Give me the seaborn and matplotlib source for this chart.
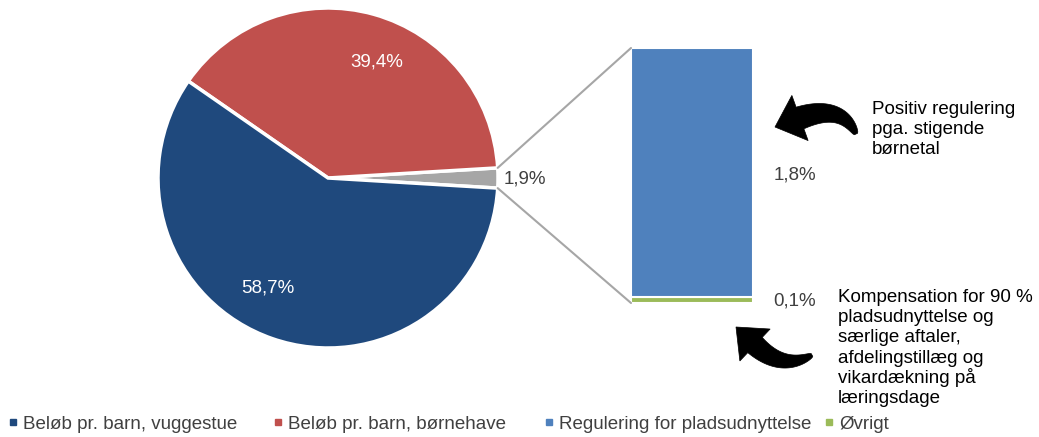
import matplotlib
matplotlib.use("Agg")
import matplotlib.pyplot as plt
import seaborn as sns
import numpy as np
from matplotlib.patches import ConnectionPatch, Polygon
from matplotlib.lines import Line2D

# ---------------- data ----------------
pie_labels = ["Øvrigt (samlet)", "Beløb pr. barn, børnehave", "Beløb pr. barn, vuggestue"]
pie_values = [1.9, 39.4, 58.7]
pie_texts = ["1,9%", "39,4%", "58,7%"]

bar_categories = ["Øvrigt", "Regulering for pladsudnyttelse"]
bar_values = [0.045, 1.855]          # heights (bottom, top)
bar_texts = ["0,1%", "1,8%"]

legend_labels = ["Beløb pr. barn, vuggestue", "Beløb pr. barn, børnehave",
                 "Regulering for pladsudnyttelse", "Øvrigt"]

note_top = ["Positiv regulering", "pga. stigende", "børnetal"]
note_bottom = ["Kompensation for 90 %", "pladsudnyttelse og", "særlige aftaler,",
               "afdelingstillæg og", "vikardækning på", "læringsdage"]

# ---------------- style ----------------
sns.set_theme(style="white")
plt.rcParams["font.family"] = ["Liberation Sans", "DejaVu Sans"]

c_dark_blue = "#1F497D"
c_red = "#C0504D"
c_gray = "#A6A6A6"
c_blue = "#4F81BD"
c_green = "#9BBB59"
txt = "#404040"
FS = 13.5

W, H = 1039, 437
fig = plt.figure(figsize=(W / 100, H / 100), dpi=100)
fig.patch.set_facecolor("white")


def fx(px):
    return px / W


def fy(py):
    return 1 - py / H


# ---------------- pie ----------------
cx, cy, r = 328, 178, 170
ax_pie = fig.add_axes([fx(cx - r), fy(cy + r), 2 * r / W, 2 * r / H])
half = pie_values[0] / 100 * 360 / 2
wedges, _ = ax_pie.pie(pie_values, colors=[c_gray, c_red, c_dark_blue],
                       startangle=-half, counterclock=True, radius=1,
                       wedgeprops=dict(edgecolor="white", linewidth=2.5))
ax_pie.set_xlim(-1, 1)
ax_pie.set_ylim(-1, 1)
ax_pie.set_aspect("auto")
ax_pie.axis("off")

fig.text(fx(525), fy(179), pie_texts[0], ha="center", va="center", fontsize=FS, color=txt)
fig.text(fx(377), fy(62), pie_texts[1], ha="center", va="center", fontsize=FS, color="white")
fig.text(fx(268), fy(288), pie_texts[2], ha="center", va="center", fontsize=FS, color="white")

# ---------------- bar ----------------
ax_bar = fig.add_axes([fx(631), fy(303), 122 / W, 255 / H])
bottom = 0
for val, col in zip(bar_values, [c_green, c_blue]):
    ax_bar.bar([0], [val], bottom=bottom, width=1.0, color=col,
               edgecolor="white", linewidth=1.5)
    bottom += val
ax_bar.set_xlim(-0.5, 0.5)
ax_bar.set_ylim(0, sum(bar_values))
ax_bar.axis("off")

fig.text(fx(795), fy(301), bar_texts[0], ha="center", va="center", fontsize=FS, color=txt)
fig.text(fx(795), fy(175), bar_texts[1], ha="center", va="center", fontsize=FS, color=txt)

# ---------------- connectors ----------------
a = np.deg2rad(half)
for sgn, yb in [(1, sum(bar_values)), (-1, 0)]:
    con = ConnectionPatch(xyA=(np.cos(a), sgn * np.sin(a)), coordsA=ax_pie.transData,
                          xyB=(-0.5, yb), coordsB=ax_bar.transData,
                          color="#A6A6A6", linewidth=1.5)
    fig.add_artist(con)

# ---------------- notes (one text per line, fixed spacing) ----------------
for i, line in enumerate(note_top):
    fig.text(fx(872), fy(114 + 20 * i), line, ha="left", va="baseline",
             fontsize=FS, color="black")
for i, line in enumerate(note_bottom):
    fig.text(fx(838), fy(301.7 + 20.3 * i), line, ha="left", va="baseline",
             fontsize=FS, color="black")


# ---------------- curved arrows (decoration) ----------------
def curved_arrow(tail, tip, base, bend, body_w, head_w):
    tail = np.array(tail, float)
    tip = np.array(tip, float)
    base = np.array(base, float)
    d = (base - tip) / np.linalg.norm(base - tip)
    ctrl = base + bend * d
    u = np.linspace(0, 1, 60)[:, None]
    pts = (1 - u) ** 2 * tail + 2 * (1 - u) * u * ctrl + u ** 2 * base
    tang = 2 * (1 - u) * (ctrl - tail) + 2 * u * (base - ctrl)
    tang = tang / np.linalg.norm(tang, axis=1, keepdims=True)
    nrm = np.column_stack([-tang[:, 1], tang[:, 0]])
    hw = body_w / 2 * (0.15 + 0.85 * u[:, 0] ** 0.6)
    left = pts + nrm * hw[:, None]
    right = pts - nrm * hw[:, None]
    n_end = nrm[-1]
    c1 = base + n_end * head_w / 2
    c2 = base - n_end * head_w / 2
    poly = np.vstack([left, [c1], [tip], [c2], right[::-1]])
    poly_fig = np.column_stack([poly[:, 0] / W, 1 - poly[:, 1] / H])
    fig.add_artist(Polygon(poly_fig, closed=True, transform=fig.transFigure,
                           facecolor="black", edgecolor="black", lw=0.5))


curved_arrow(tail=(856, 134), tip=(775, 127), base=(800, 118), bend=44,
             body_w=23, head_w=48)
curved_arrow(tail=(812, 355), tip=(736, 327), base=(755, 345), bend=38,
             body_w=21, head_w=44)

# ---------------- legend ----------------
legend_colors = [c_dark_blue, c_red, c_blue, c_green]
legend_x = [8, 273, 544, 824]
for lab, col, x in zip(legend_labels, legend_colors, legend_x):
    h = Line2D([0], [0], marker="s", linestyle="none", markersize=4,
               markerfacecolor=col, markeredgecolor=col)
    fig.legend([h], [lab], loc="center left", bbox_to_anchor=(fx(x), fy(424)),
               frameon=False, fontsize=FS, handlelength=0.5, handletextpad=0.3,
               labelcolor=txt, borderaxespad=0, borderpad=0)

fig.savefig("out.png", dpi=100, facecolor="white")
